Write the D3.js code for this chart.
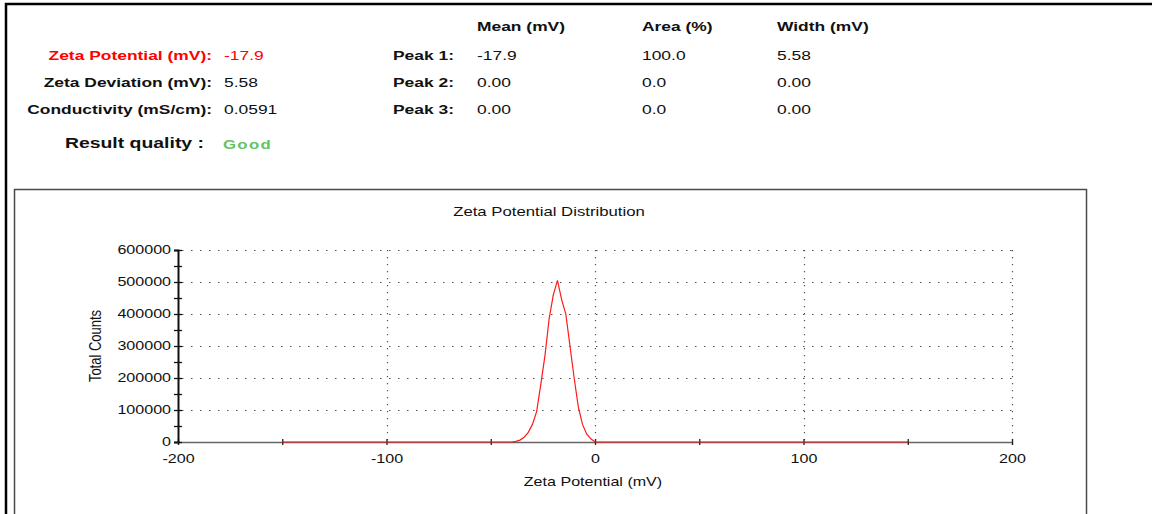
<!DOCTYPE html>
<html>
<head>
<meta charset="utf-8">
<script src="https://cdn.jsdelivr.net/npm/d3@7"></script>
<style>
  html, body { margin: 0; padding: 0; background: #fff; }
  svg { display: block; font-family: "Liberation Sans", Arial, sans-serif; }
</style>
</head>
<body>
<svg id="report" width="1152" height="514"></svg>
<script>
(function () {
  'use strict';

  // --- report values ---
  var summaryLabels = ["Zeta Potential (mV):", "Zeta Deviation (mV):", "Conductivity (mS/cm):"];
  var summaryValues = ["-17.9", "5.58", "0.0591"];
  var peakHeaders = ["Mean (mV)", "Area (%)", "Width (mV)"];
  var peakLabels = ["Peak 1:", "Peak 2:", "Peak 3:"];
  var peakMeans = ["-17.9", "0.00", "0.00"];
  var peakAreas = ["100.0", "0.0", "0.0"];
  var peakWidths = ["5.58", "0.00", "0.00"];
  var qualityLabel = "Result quality :";
  var qualityValue = "Good";

  // --- distribution ---
  var zetaMv = [-150, -40, -38, -36, -34, -32, -30, -28, -26, -24, -22, -20, -18, -16, -14, -12, -10, -8, -6, -4, -2, 0, 150];
  var totalCounts = [0, 0, 2000, 6000, 15000, 30000, 55000, 95000, 180000, 270000, 385000, 460000, 505000, 445000, 400000, 300000, 200000, 110000, 55000, 25000, 10000, 0, 0];

  var xTicks = [-200, -150, -100, -50, 0, 50, 100, 150, 200];
  var yTicks = [0, 50000, 100000, 150000, 200000, 250000, 300000, 350000, 400000, 450000, 500000, 550000, 600000];
  var xGrid = [-100, 0, 100, 200];
  var yGrid = [100000, 200000, 300000, 400000, 500000, 600000];

  var SX = 1.34; // the report is stretched sideways

  var svg = d3.select("#report");

  function label(parent, x, y, str, size, weight, color, anchor) {
    return parent.append("text")
      .attr("transform", `translate(${x},${y}) scale(${SX},1)`)
      .attr("text-anchor", anchor || "start")
      .style("font-size", size + "px")
      .style("font-weight", weight || "normal")
      .style("fill", color || "#111")
      .text(str);
  }

  // frames
  svg.append("path")
    .attr("d", "M6,514 V4 H1152")
    .attr("fill", "none")
    .attr("stroke", "#000")
    .attr("stroke-width", 2.5);

  svg.append("rect")
    .attr("x", 14.5).attr("y", 189.5)
    .attr("width", 1072).attr("height", 340)
    .attr("fill", "none")
    .attr("stroke", "#4a4a4a")
    .attr("stroke-width", 1.5);

  // summary block
  var rowsY = [59.5, 86.5, 113.5];
  summaryLabels.forEach(function (s, i) {
    var c = i === 0 ? "#ff0000" : "#111";
    label(svg, 212, rowsY[i], s, 13, "bold", c, "end");
    label(svg, 224, rowsY[i], summaryValues[i], 13, "normal", c);
  });

  label(svg, 204, 148, qualityLabel, 14.5, "bold", "#111", "end");
  label(svg, 223, 148.5, qualityValue, 12.5, "bold", "#62c462")
    .style("letter-spacing", "1px");

  // peak table
  var colX = [477, 642, 777];
  peakHeaders.forEach(function (h, j) {
    label(svg, colX[j], 31, h, 13, "bold", "#111");
  });
  peakLabels.forEach(function (p, i) {
    label(svg, 393, rowsY[i], p, 13, "bold", "#111");
    label(svg, colX[0], rowsY[i], peakMeans[i], 13);
    label(svg, colX[1], rowsY[i], peakAreas[i], 13);
    label(svg, colX[2], rowsY[i], peakWidths[i], 13);
  });

  // chart
  var x = d3.scaleLinear().domain([-200, 200]).range([178, 1012]);
  var y = d3.scaleLinear().domain([0, 600000]).range([442, 250]);

  label(svg, 549, 216, "Zeta Potential Distribution", 12.5, "normal", "#111", "middle");
  label(svg, 593, 486, "Zeta Potential (mV)", 12, "normal", "#111", "middle");
  svg.append("text")
    .attr("transform", `translate(101,346) scale(${SX},1) rotate(-90)`)
    .attr("text-anchor", "middle")
    .style("font-size", "13px")
    .style("fill", "#111")
    .text("Total Counts");

  // grid
  var grid = svg.append("g").attr("class", "grid");
  grid.selectAll("line.h")
    .data(yGrid)
    .enter().append("line")
    .attr("class", "h")
    .attr("x1", x(-200) + 4).attr("x2", x(200))
    .attr("y1", function (d) { return y(d) + 0.5; })
    .attr("y2", function (d) { return y(d) + 0.5; })
    .attr("stroke", "#555")
    .attr("stroke-width", 1.2)
    .attr("stroke-dasharray", "1.5,7.5");
  grid.selectAll("line.v")
    .data(xGrid)
    .enter().append("line")
    .attr("class", "v")
    .attr("x1", function (d) { return Math.round(x(d)) + 0.5; })
    .attr("x2", function (d) { return Math.round(x(d)) + 0.5; })
    .attr("y1", y(600000)).attr("y2", y(0))
    .attr("stroke", "#555")
    .attr("stroke-width", 1.2)
    .attr("stroke-dasharray", "1.2,5.8");

  // axes
  var xAxis = svg.append("g")
    .attr("transform", "translate(0,442)")
    .call(d3.axisBottom(x).tickValues(xTicks).tickSize(3)
      .tickFormat(function (d) { return d % 100 === 0 ? d : ""; }));
  xAxis.select(".domain").attr("stroke", "#666").attr("stroke-width", 1.3);
  xAxis.selectAll(".tick line").attr("y1", -3).attr("y2", 3).attr("stroke", "#222").attr("stroke-width", 1.3);
  xAxis.selectAll(".tick text")
    .attr("y", 0).attr("dy", 0)
    .attr("transform", `translate(0,21) scale(${SX},1)`)
    .style("font-size", "12px")
    .style("font-family", "'Liberation Sans', Arial, sans-serif")
    .attr("fill", "#111");

  var yAxis = svg.append("g")
    .attr("transform", "translate(178,0)")
    .call(d3.axisLeft(y).tickValues(yTicks).tickSize(4)
      .tickFormat(function (d) { return d % 100000 === 0 ? d : ""; }));
  yAxis.select(".domain").attr("stroke", "#111").attr("stroke-width", 2);
  yAxis.selectAll(".tick line").attr("x1", -4).attr("x2", 4).attr("stroke", "#111").attr("stroke-width", 1.3);
  yAxis.selectAll(".tick text")
    .attr("x", 0)
    .attr("transform", `translate(-7,0) scale(${SX},1)`)
    .style("font-size", "12px")
    .style("font-family", "'Liberation Sans', Arial, sans-serif")
    .attr("fill", "#111");

  // distribution curve
  var pts = zetaMv.map(function (v, i) { return [v, totalCounts[i]]; });
  svg.append("path")
    .datum(pts)
    .attr("fill", "none")
    .attr("stroke", "#ff1a1a")
    .attr("stroke-width", 1.2)
    .attr("d", d3.line()
      .x(function (d) { return x(d[0]); })
      .y(function (d) { return y(d[1]); }));
}());
</script>
</body>
</html>
